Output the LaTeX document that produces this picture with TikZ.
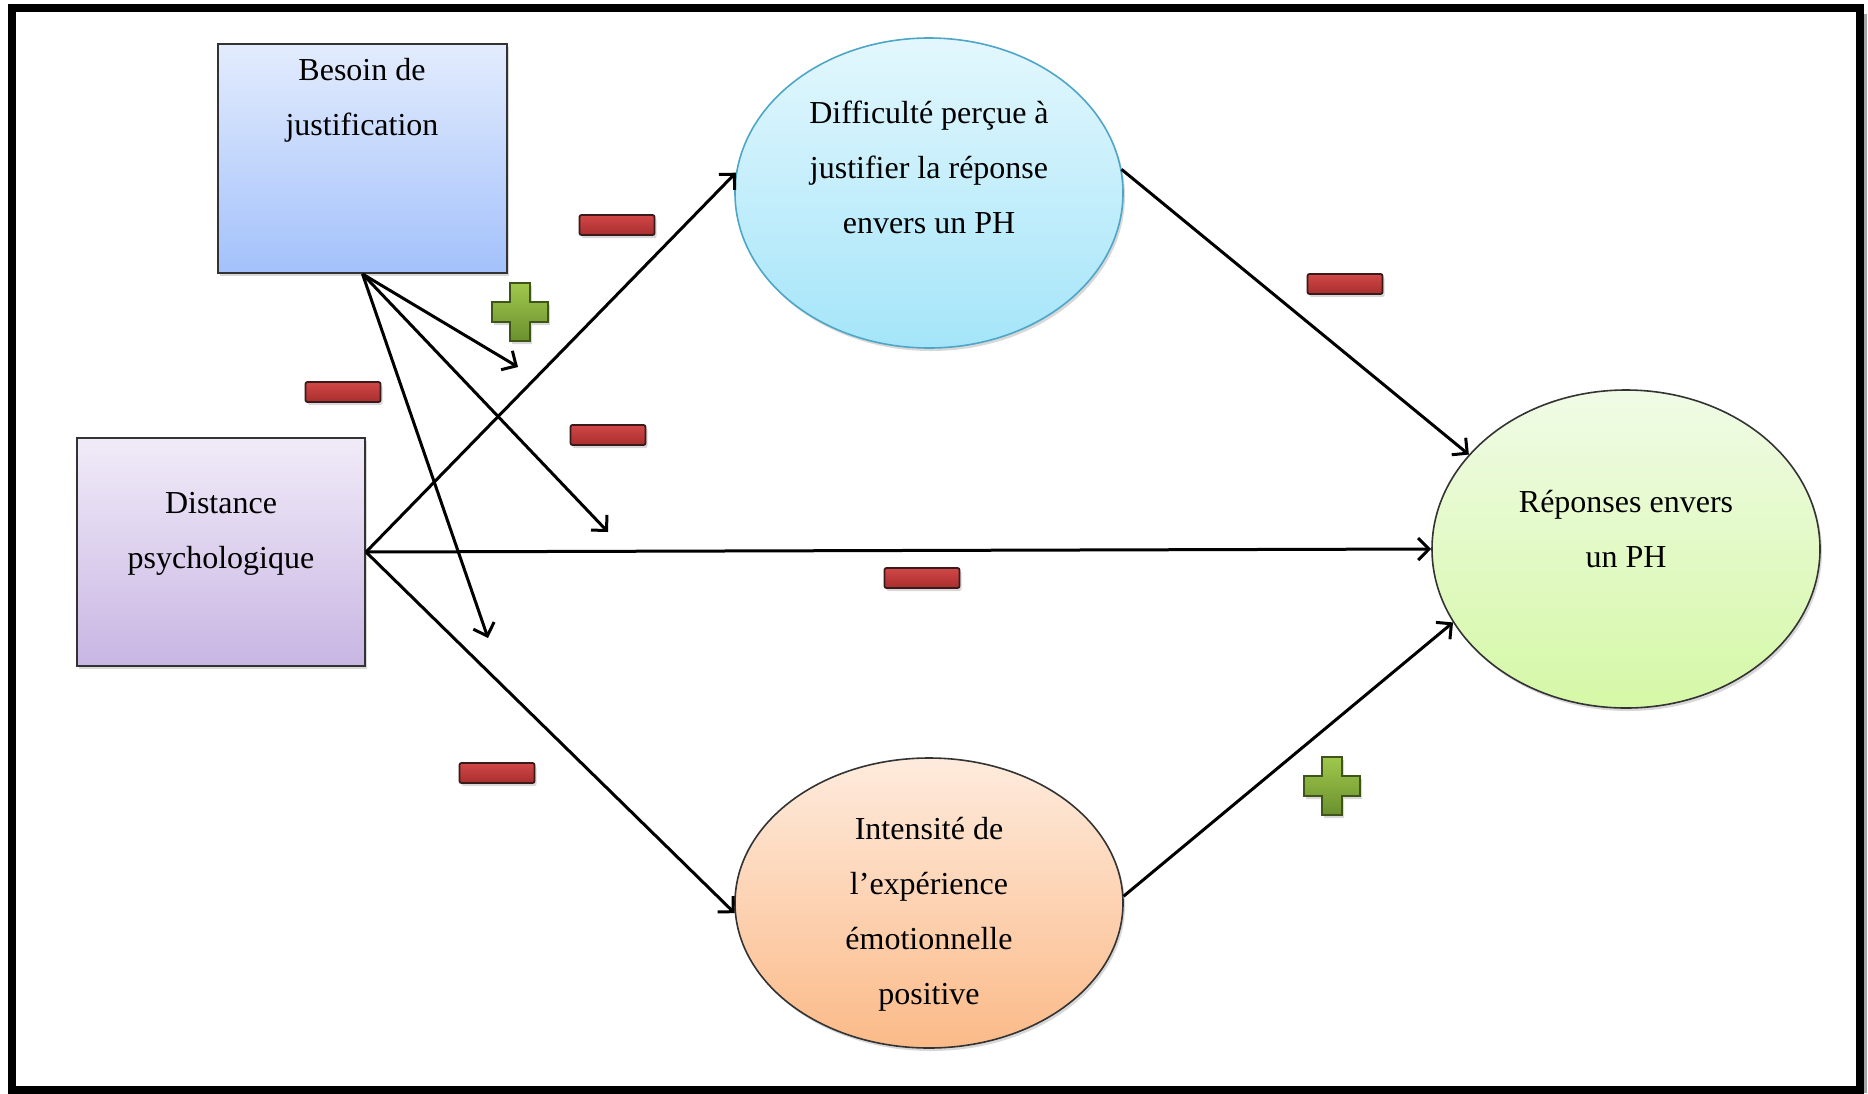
\documentclass[tikz,border=0pt]{standalone}
\usepackage{fontspec}
\setmainfont{Liberation Serif}
\usetikzlibrary{arrows.meta,shapes.geometric,shadows}
\definecolor{bTop}{HTML}{E3ECFD}\definecolor{bBot}{HTML}{A3C1FB}
\definecolor{dTop}{HTML}{F1EBF8}\definecolor{dBot}{HTML}{C8B6E3}
\definecolor{cTop}{HTML}{E3F7FD}\definecolor{cBot}{HTML}{A5E5F9}\definecolor{cLine}{HTML}{4EA6C7}
\definecolor{iTop}{HTML}{FEEBDD}\definecolor{iBot}{HTML}{FBBA88}
\definecolor{rTop}{HTML}{F0FBE6}\definecolor{rBot}{HTML}{D5F8A6}
\definecolor{mTop}{HTML}{D24747}\definecolor{mBot}{HTML}{A82E2E}\definecolor{mLine}{HTML}{3A1A1A}
\definecolor{pTop}{HTML}{A0C84C}\definecolor{pBot}{HTML}{6A902E}\definecolor{pLine}{HTML}{3E5418}
\begin{document}
\begin{tikzpicture}[x=1pt,y=-1pt,
  shad/.style={drop shadow={shadow xshift=2pt,shadow yshift=-3pt,opacity=0.3}},
  boxnode/.style={rectangle,draw=black!80,line width=2pt,inner sep=0pt,shad},
  ellnode/.style={ellipse,draw=black!80,line width=1.6pt,inner sep=0pt,minimum width=388pt,shad},
  txt/.style={align=center,font=\fontsize{32}{55}\selectfont,inner sep=0pt},
  conn/.style={line width=3pt,-{Straight Barb[length=11pt,width=22pt]}},
  minus/.style={rectangle,rounded corners=2pt,minimum width=75pt,minimum height=20pt,inner sep=0pt,
    draw=mLine,line width=1.8pt,top color=mTop,bottom color=mBot,shad},
  plussym/.pic={
    \draw[draw=pLine,line width=1.8pt,top color=pTop,bottom color=pBot,
      drop shadow={shadow xshift=2pt,shadow yshift=-3pt,opacity=0.3}]
      (-10,-29) -- (10,-29) -- (10,-10) -- (28,-10) -- (28,10) -- (10,10) -- (10,29)
      -- (-10,29) -- (-10,10) -- (-28,10) -- (-28,-10) -- (-10,-10) -- cycle;
  }]
\useasboundingbox (0,0) rectangle (1868,1093);
\fill[white] (0,0) rectangle (1868,1093);
\draw[black!35,line width=3pt] (1865,14) -- (1865,1093);
\draw[line width=8pt] (12,8) rectangle (1859.5,1090);

% shapes
\node[boxnode,minimum width=289pt,minimum height=229pt,top color=bTop,bottom color=bBot] (b) at (362.5,158.5) {};
\node[boxnode,minimum width=288pt,minimum height=228pt,top color=dTop,bottom color=dBot] (d) at (221,552) {};
\node[ellnode,minimum height=310pt,draw=cLine,top color=cTop,bottom color=cBot] (c1) at (929,193) {};
\node[ellnode,minimum height=290pt,top color=iTop,bottom color=iBot] (c3) at (929,903) {};
\node[ellnode,minimum height=318pt,top color=rTop,bottom color=rBot] (r) at (1626,549) {};

% texts
\node[txt] (tb) at (362,100.5) {Besoin de\\justification};
\node[txt] (td) at (221,534) {Distance\\psychologique};
\node[txt] (tc1) at (929,167) {Difficulté perçue à\\justifier la réponse\\envers un PH};
\node[txt] (tc3) at (929,914) {Intensité de\\l’expérience\\émotionnelle\\positive};
\node[txt] (tr) at (1626,529) {Réponses envers\\un PH};

% free arrow ends
\coordinate (e1) at (518,367);
\coordinate (e2) at (608,532);
\coordinate (e3) at (488,638);

% connectors
\draw[conn] (b.south) -- (e1);
\draw[conn] (b.south) -- (e2);
\draw[conn] (b.south) -- (e3);
\draw[conn] (d.east) -- (c1.174);
\draw[conn] (d.east) -- (r.west);
\draw[conn] (d.east) -- (c3.183);
\draw[conn] (c1.7) -- (r.149);
\draw[conn] (c3.2) -- (r.203);

% signs
\node[minus] (m1) at (617,225) {};
\node[minus] (m2) at (343,392) {};
\node[minus] (m3) at (608,435) {};
\node[minus] (m4) at (1345,284) {};
\node[minus] (m5) at (922,578) {};
\node[minus] (m6) at (497,773) {};
\pic at (520,312) {plussym};
\pic at (1332,786) {plussym};
\end{tikzpicture}
\end{document}
